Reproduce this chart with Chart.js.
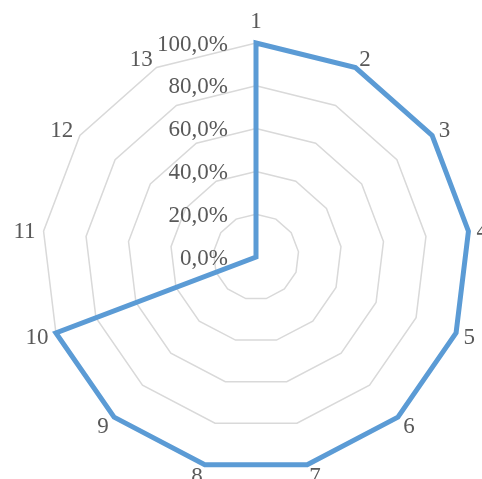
<!DOCTYPE html>
<html>
<head>
<meta charset="utf-8">
<script src="https://cdn.jsdelivr.net/npm/chart.js@4"></script>
<style>
  html, body { margin: 0; padding: 0; background: #fff; overflow: hidden; }
  #wrap { position: absolute; left: 0; top: 0; width: 482px; height: 479px; }
</style>
</head>
<body>
<div id="wrap"><canvas id="radarChart"></canvas></div>
<script>
// 類別與數值
const categories = ['1','2','3','4','5','6','7','8','9','10','11','12','13'];
const values = [100, 100, 100, 100, 100, 100, 100, 100, 100, 100, 0, 0, 0];
const tickValues = [0, 20, 40, 60, 80, 100];

const textColor = '#595959';
const fontFamily = '"Liberation Serif", "Times New Roman", serif';
const fontSize = 23;

// 自己畫刻度文字 (放在軸的左邊) 和類別標籤 (像 Excel 一樣貼著頂點)
const labelPlugin = {
    id: 'excelLabels',
    afterDraw(chart) {
        const scale = chart.scales.r;
        const ctx = chart.ctx;
        const r = scale.drawingArea;
        const base = fontSize * 0.33; // 數字字形中心到基線
        ctx.save();
        ctx.font = fontSize + 'px ' + fontFamily;
        ctx.fillStyle = textColor;
        ctx.textBaseline = 'alphabetic';

        // 刻度
        ctx.textAlign = 'right';
        tickValues.forEach(v => {
            const d = scale.getDistanceFromCenterForValue(v);
            const label = v.toFixed(1).replace('.', ',') + '%';
            ctx.fillText(label, scale.xCenter - 28, scale.yCenter - d + base);
        });

        // 類別標籤
        categories.forEach((label, i) => {
            const p = scale.getPointPosition(i, r);
            const a = p.angle + Math.PI / 2; // 0 = 上方, 順時針
            const s = Math.sin(a), c = Math.cos(a);
            let x = p.x, align = 'center';
            if (s > 0.05) { align = 'left'; x += 8 * s; }
            else if (s < -0.05) { align = 'right'; x += 8 * s; }
            const off = i === 0 ? 23 : 10.7;
            const y = p.y - c * off + base;
            ctx.textAlign = align;
            ctx.fillText(label, x, y);
        });
        ctx.restore();
    }
};

const ctx = document.getElementById('radarChart').getContext('2d');
new Chart(ctx, {
    type: 'radar',
    data: {
        labels: categories,
        datasets: [{
            data: values,
            borderColor: '#5b9bd5',
            borderWidth: 5,
            fill: false,
            pointRadius: 0,
            borderJoinStyle: 'miter'
        }]
    },
    options: {
        responsive: true,
        maintainAspectRatio: false,
        animation: false,
        layout: { padding: { left: 42, right: 12, top: 43, bottom: 8 } },
        plugins: {
            legend: { display: false },
            tooltip: { enabled: false }
        },
        scales: {
            r: {
                min: 0,
                max: 100,
                ticks: { stepSize: 20, display: false },
                grid: { color: '#d9d9d9', lineWidth: 1.5 },
                angleLines: { display: false },
                pointLabels: { display: false }
            }
        }
    },
    plugins: [labelPlugin]
});
</script>
</body>
</html>
